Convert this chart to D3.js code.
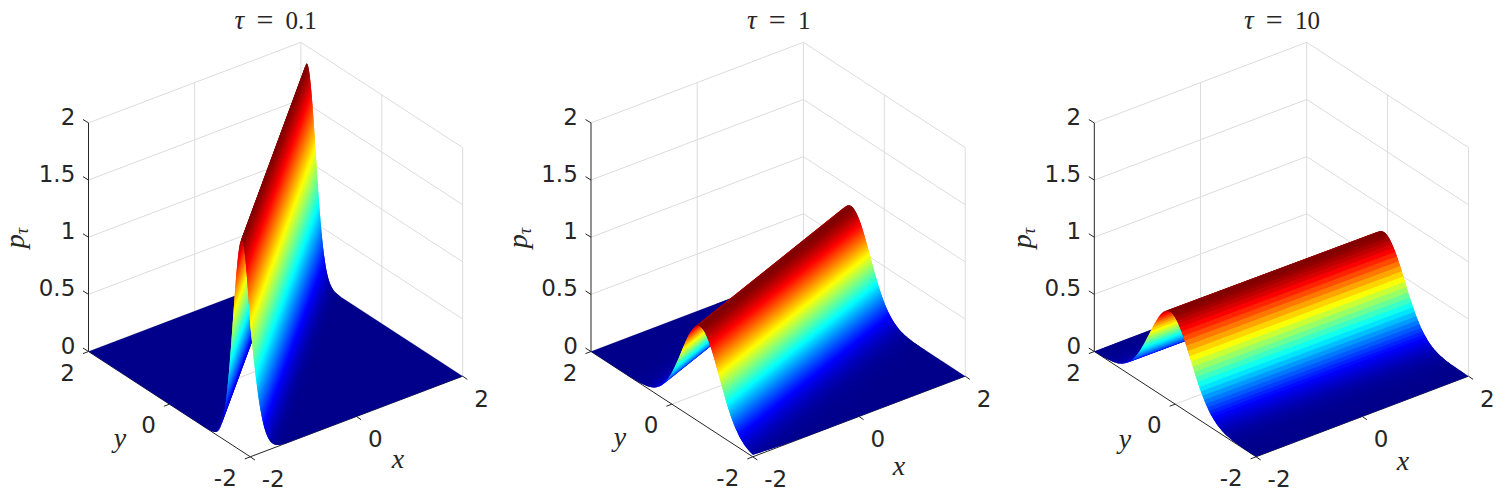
<!DOCTYPE html>
<html>
<head>
<meta charset="utf-8">
<script src="https://cdn.jsdelivr.net/npm/d3@7"></script>
<style>
html,body{margin:0;padding:0;background:#fff;}
svg{display:block;}
</style>
</head>
<body>
<div id="chart"></div>
<script>
// ---- values ----
const tauLabels = ["0.1", "1", "10"];
const zTicks = [0, 0.5, 1, 1.5, 2];
const zTickLabels = ["0", "0.5", "1", "1.5", "2"];
const xyTicks = [-2, 0, 2];
const xyTickLabels = ["-2", "0", "2"];
// y position of the ridge crest at x=-2 and x=2
const ridgeA = [-1.79, 1.85];
const ridgeB = [-0.70, 0.82];
const ridgeC = [0.125, 0.09];
// spacing between cross-section samples, distance from the crest
const stepA = 0.02;
const stepB = 0.04;
const stepC = 0.04;
// height of the cross-section, from the crest outwards
const profileA = [1.85,1.842,1.818,1.779,1.726,1.660,1.583,1.497,1.402,1.303,1.200,1.096,0.992,0.890,0.792,0.699,0.611,0.530,0.455,0.388,0.328,0.274,0.228,0.188,0.153,0.124,0.099,0.079,0.062,0.049,0.038,0.029,0.022,0.017,0.012,0.009,0.007,0.005,0.004,0.003,0.002,0];
const profileB = [0.84,0.837,0.828,0.813,0.793,0.767,0.737,0.703,0.666,0.626,0.585,0.542,0.499,0.455,0.413,0.372,0.332,0.295,0.260,0.227,0.197,0.170,0.146,0.124,0.104,0.087,0.073,0.060,0.049,0.040,0.032,0.026,0.021,0.016,0.013,0.010,0.008,0.006,0.004,0.003,0.003,0.002,0.002,0.001,0.001,0];
const profileC = [0.78,0.778,0.770,0.759,0.743,0.722,0.698,0.671,0.641,0.608,0.574,0.538,0.501,0.464,0.427,0.390,0.355,0.321,0.288,0.257,0.228,0.201,0.176,0.153,0.133,0.114,0.098,0.083,0.070,0.059,0.049,0.041,0.033,0.027,0.022,0.018,0.015,0.012,0.009,0.007,0.006,0.004,0.003,0.003,0.002,0.002,0.001,0.001,0.001,0];

const panelRidges = [ridgeA, ridgeB, ridgeC];
const panelSteps = [stepA, stepB, stepC];
const panelProfiles = [profileA, profileB, profileC];
const panelSmooth = [true, true, false];

// ---- layout ----
const W = 1503, H = 497;
const panelDx = [0, 502.5, 1005.8];
const origin = [250.3, 456.8];          // screen point of x=-2, y=-2, z=0
const xRunX = 212.4, xRunY = -80.6;     // screen run of x from -2 to 2
const yRunX = -161.8, yRunY = -105.3;   // screen run of y from -2 to 2
const zRun = -228.6;                    // screen rise of z from 0 to 2
const titlePos = [[275.7,28.8],[778.7,28.8],[1282,28.8]];
const xLabelPos = [[398,468],[899,475],[1403,470]];
const yLabelPos = [[120,446.5],[620,445.5],[1125,448]];
const pLabelPos = [[24,238],[527,238],[1030.5,238]];
const ink = "#262626", gridInk = "#dcdcdc";

const svg = d3.select("#chart").append("svg").attr("width", W).attr("height", H);
svg.append("rect").attr("width", W).attr("height", H).attr("fill", "#fff");
const defs = svg.append("defs");

const sxX = d3.scaleLinear().domain([-2,2]).range([0,xRunX]);
const sxY = d3.scaleLinear().domain([-2,2]).range([0,xRunY]);
const syX = d3.scaleLinear().domain([-2,2]).range([0,yRunX]);
const syY = d3.scaleLinear().domain([-2,2]).range([0,yRunY]);
const sz = d3.scaleLinear().domain([0,2]).range([0,zRun]);

const jetStops = [0,0.125,0.375,0.625,0.875,1];
const jetColors = ["#00008b","#0000ff","#00ffff","#ffff00","#ff0000","#800000"];
const gradFractions = [0,0.25,0.5,0.75,1];
const underlap = 1;   // each ribbon runs this many sample steps under its nearer neighbour

function clipPoly(poly, f){
  const out = [];
  for(let i=0;i<poly.length;i++){
    const a = poly[i], b = poly[(i+1)%poly.length];
    const fa = f(a), fb = f(b);
    if(fa<=0) out.push(a);
    if((fa<0&&fb>0)||(fa>0&&fb<0)){
      const t = fa/(fa-fb);
      out.push([a[0]+t*(b[0]-a[0]), a[1]+t*(b[1]-a[1])]);
    }
  }
  return out;
}

panelProfiles.forEach((profile, pi)=>{
  const dx = panelDx[pi];
  const g = svg.append("g").attr("transform", `translate(${dx},0)`);
  const px = (x,y,z)=> origin[0]+sxX(x)+syX(y);
  const py = (x,y,z)=> origin[1]+sxY(x)+syY(y)+sz(z);
  const line3 = (a,b,col,w=1)=> g.append("line")
    .attr("x1",px(...a)).attr("y1",py(...a)).attr("x2",px(...b)).attr("y2",py(...b))
    .attr("stroke",col).attr("stroke-width",w);

  // grid on the back walls and the floor
  zTicks.forEach(z=>{
    line3([-2,2,z],[2,2,z],gridInk);
    line3([2,2,z],[2,-2,z],gridInk);
  });
  line3([2,2,0],[2,2,2],gridInk);
  line3([2,-2,0],[2,-2,2],gridInk);
  line3([0,2,0],[0,2,2],gridInk);
  line3([2,0,0],[2,0,2],gridInk);
  line3([0,-2,0],[0,2,0],gridInk);
  line3([-2,0,0],[2,0,0],gridInk);

  // axes
  line3([-2,2,0],[-2,2,2],ink);
  line3([-2,2,0],[-2,-2,0],ink);
  line3([-2,-2,0],[2,-2,0],ink);
  const tick = (x,y,z,tx,ty)=> g.append("line")
    .attr("x1",px(x,y,z)).attr("y1",py(x,y,z))
    .attr("x2",px(x,y,z)+tx).attr("y2",py(x,y,z)+ty)
    .attr("stroke",ink).attr("stroke-width",1);
  zTicks.forEach(z=>tick(-2,2,z,-5.5,-3.4));
  xyTicks.forEach(v=>tick(-2,v,0,-5.5,2.1));
  xyTicks.forEach(v=>tick(v,-2,0,4.6,3.2));

  // surface: ribbons running parallel to the crest, far side first
  const crest = d3.scaleLinear().domain([-2,2]).range(panelRidges[pi]);
  const step = panelSteps[pi];
  const peak = d3.max(profile);
  const jet = d3.scaleLinear().domain(jetStops.map(s=>s*peak)).range(jetColors);
  const farD = 7;
  const rows = [[farD,0]];
  for(let k=profile.length-1;k>0;k--) rows.push([k*step,profile[k]]);
  for(let k=0;k<profile.length;k++) rows.push([-k*step,profile[k]]);
  rows.push([-farD,0]);

  // screen direction of the ribbons, used to lay each gradient across its ribbon
  const ux = px(1,crest(1),0)-px(-1,crest(-1),0);
  const uy = py(1,crest(1),0)-py(-1,crest(-1),0);
  const un = Math.hypot(ux,uy);
  const nx = -uy/un, ny = ux/un;

  const surf = g.append("g");
  rows.slice(0,-1).forEach((r0,ri)=>{
    const r1 = rows[ri+1];
    const r2 = rows[ri+2] || r1;
    const dEnd = r1[0]+(r2[0]-r1[0])*Math.min(1, step/Math.abs(r2[0]-r1[0]||1)*underlap);
    const heightAt = d3.scaleLinear().domain([r2[0]===r1[0]?r1[0]-1:r2[0],r1[0],r0[0]])
      .range([r2[1],r1[1],r0[1]]);
    let poly = [[-2,r0[0]],[2,r0[0]],[2,r1[0]],[2,dEnd],[-2,dEnd],[-2,r1[0]]];
    poly = clipPoly(poly,p=>crest(p[0])+p[1]-2);
    if(poly.length) poly = clipPoly(poly,p=>-2-(crest(p[0])+p[1]));
    if(poly.length<3) return;
    const pts = poly.map(p=>{
      const y = crest(p[0])+p[1];
      const z = heightAt(p[1]);
      return [px(p[0],y,z),py(p[0],y,z)];
    });
    let paint = jet((r0[1]+r1[1])/2);
    if(panelSmooth[pi] && r0[1]!==r1[1]){
      const ax = px(0,crest(0)+r0[0],r0[1]), ay = py(0,crest(0)+r0[0],r0[1]);
      const bx = px(0,crest(0)+r1[0],r1[1]), by = py(0,crest(0)+r1[0],r1[1]);
      const proj = (bx-ax)*nx+(by-ay)*ny;
      if(Math.abs(proj)>0.01){
        const id = `g${pi}_${ri}`;
        const lg = defs.append("linearGradient").attr("id",id)
          .attr("gradientUnits","userSpaceOnUse")
          .attr("x1",ax).attr("y1",ay).attr("x2",ax+nx*proj).attr("y2",ay+ny*proj);
        gradFractions.forEach(f=>lg.append("stop").attr("offset",f)
          .attr("stop-color",jet(r0[1]+f*(r1[1]-r0[1]))));
        paint = `url(#${id})`;
      }
    }
    surf.append("path").attr("d",d3.line()(pts)+"Z").attr("fill",paint);
  });

  // tick labels
  const tickFont = "'DejaVu Sans', sans-serif";
  const label = (txt,x,y,anchor)=> g.append("text").text(txt)
    .attr("x",x).attr("y",y).attr("text-anchor",anchor)
    .attr("font-family",tickFont).attr("font-size",23).attr("fill",ink);
  zTicks.forEach((z,i)=>{
    label(zTickLabels[i], px(-2,2,z)-13.2, py(-2,2,z)+2, "end");
  });
  xyTicks.forEach((v,i)=>{
    label(xyTickLabels[i], px(-2,v,0)-13.5, py(-2,v,0)+29.2, "end");
    label(xyTickLabels[i], px(v,-2,0)+11.5, py(v,-2,0)+30.5, "start");
  });

  // title and axis names are placed in absolute page coordinates
  const serif = "'Liberation Serif', serif";
  const title = g.append("text")
    .attr("x",titlePos[pi][0]-dx).attr("y",titlePos[pi][1]).attr("text-anchor","middle")
    .attr("font-family",serif).attr("font-size",25).attr("fill",ink).attr("word-spacing",6);
  title.append("tspan").attr("font-style","italic").attr("font-size",27).text("τ");
  title.append("tspan").text(" ");
  title.append("tspan").attr("font-size",30).attr("dy",1).text("=");
  title.append("tspan").attr("dy",-1).text(" "+tauLabels[pi]);
  const ital = (txt,pos)=> g.append("text").text(txt)
    .attr("x",pos[0]-dx).attr("y",pos[1]).attr("text-anchor","middle")
    .attr("font-family",serif).attr("font-style","italic").attr("font-size",28).attr("fill",ink);
  ital("x",xLabelPos[pi]);
  ital("y",yLabelPos[pi]);
  const p = g.append("text")
    .attr("transform",`translate(${pLabelPos[pi][0]-dx},${pLabelPos[pi][1]}) rotate(-90)`)
    .attr("text-anchor","middle")
    .attr("font-family",serif).attr("font-style","italic").attr("font-size",28).attr("fill",ink);
  p.append("tspan").text("p");
  p.append("tspan").attr("font-size",18).attr("dy",4).text("τ");
});
</script>
</body>
</html>
